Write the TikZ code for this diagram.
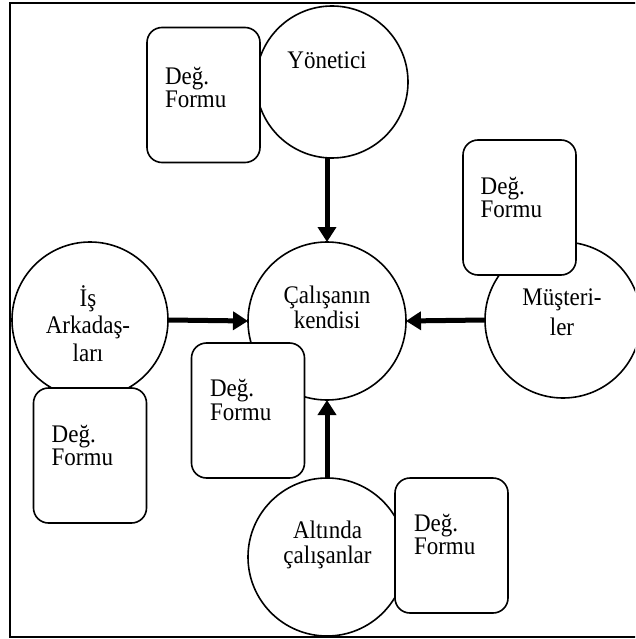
\documentclass[tikz,border=0pt]{standalone}
\usepackage{fontspec}
\setmainfont{Liberation Serif}
\usetikzlibrary{arrows.meta}
% stacked label: #1 line spacing, #2 column alignment, #3 lines
\newcommand{\lbl}[3]{\scalebox{1}[1.1]{\fontsize{23}{#1}\selectfont\begin{tabular}{@{}#2@{}}#3\end{tabular}}}

\begin{document}
\begin{tikzpicture}[x=1pt,y=-1pt,
  party/.style={circle,draw,line width=1.6pt,inner sep=0pt,outer sep=0pt,fill=white},
  form/.style={rectangle,rounded corners=15pt,draw,line width=1.6pt,fill=white,
    inner sep=0pt,outer sep=0pt,minimum width=113pt,minimum height=135pt},
  txt/.style={inner sep=0pt,outer sep=0pt},
  feed/.style={line width=5pt,-{Triangle[length=15pt,width=18pt]}}]

\useasboundingbox (0,0) rectangle (635,639);
\clip (0,0) rectangle (635,639);

% outer frame
\draw[line width=1.6pt] (10,3) rectangle (660,637);

% evaluators
\node[party,minimum size=152pt] (boss) at (332,82) {};
\node[party,minimum size=158pt] (self) at (327,321) {};
\node[party,minimum size=156pt] (peers) at (90,320) {};
\node[party,minimum size=156pt] (clients) at (563,320) {};
\node[party,minimum size=158pt] (staff) at (327,557) {};

% evaluation forms
\node[form] (bossform) at (203.5,95) {};
\node[form] (selfform) at (248,410.5) {};
\node[form] (peersform) at (90,455.5) {};
\node[form] (clientsform) at (519.5,207.5) {};
\node[form] (staffform) at (451.5,545.5) {};

% feedback towards the employee
\draw[feed] (self |- boss.south) -- (self.north);
\draw[feed] (peers.east) -- (self.west);
\draw[feed] (clients.west) -- (self.east);
\draw[feed] (staff.north) -- (self.south);

% circle labels
\node[txt] (bosslbl) at (327,64) {\lbl{21}{c}{Yönetici}};
\node[txt] (selflbl) at (327,311) {\lbl{21.4}{c}{Çalışanın\\kendisi}};
\node[txt] (peerslbl) at (88,327.5) {\lbl{25}{c}{İş\\Arkadaş-\\ları}};
\node[txt] (clientslbl) at (562,314.4) {\lbl{26.8}{c}{Müşteri-\\ler}};
\node[txt] (stafflbl) at (327.5,545.5) {\lbl{22.7}{c}{Altında\\çalışanlar}};

% form labels
\node[txt,anchor=west] (bossformlbl) at (165,90.6) {\lbl{20.9}{l}{Değ.\\Formu}};
\node[txt,anchor=west] (selfformlbl) at (210,403.5) {\lbl{20.9}{l}{Değ.\\Formu}};
\node[txt,anchor=west] (peersformlbl) at (51.7,448.8) {\lbl{20.9}{l}{Değ.\\Formu}};
\node[txt,anchor=west] (clientsformlbl) at (480.7,200.8) {\lbl{20.9}{l}{Değ.\\Formu}};
\node[txt,anchor=west] (staffformlbl) at (414,537.9) {\lbl{20.9}{l}{Değ.\\Formu}};
\end{tikzpicture}
\end{document}
